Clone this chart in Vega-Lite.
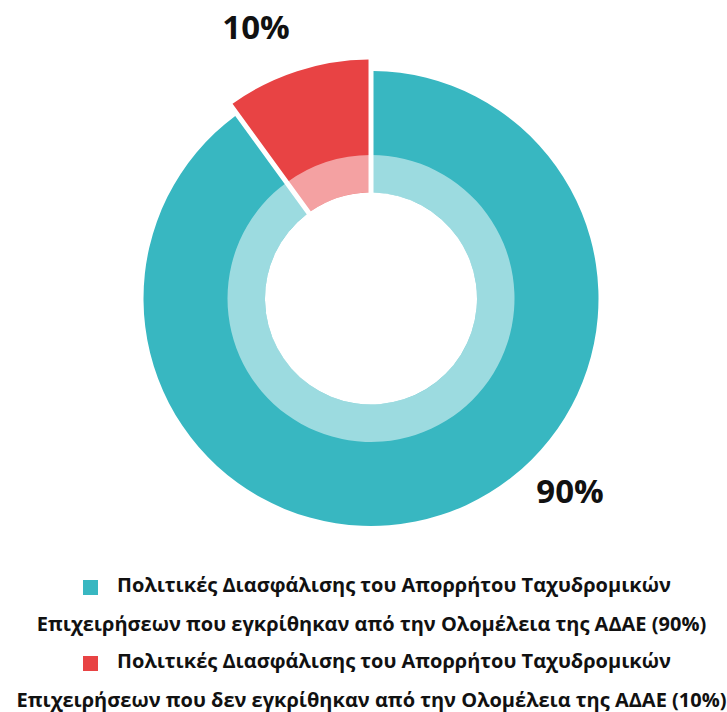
{
  "$schema": "https://vega.github.io/schema/vega-lite/v6.json",
  "width": 712,
  "height": 597,
  "autosize": {"type": "none"},
  "padding": {"left": 15, "top": 0, "right": 0, "bottom": 115},
  "background": "white",
  "config": {"view": {"stroke": null}},
  "data": {
    "values": [
      {"category": "Πολιτικές Διασφάλισης του Απορρήτου Ταχυδρομικών Επιχειρήσεων που εγκρίθηκαν από την Ολομέλεια της ΑΔΑΕ (90%)", "value": 90, "label": "90%", "order": 1},
      {"category": "Πολιτικές Διασφάλισης του Απορρήτου Ταχυδρομικών Επιχειρήσεων που δεν εγκρίθηκαν από την Ολομέλεια της ΑΔΑΕ (10%)", "value": 10, "label": "10%", "order": 2}
    ]
  },
  "transform": [
    {"stack": "value", "groupby": [], "as": ["v0", "v1"], "sort": [{"field": "order", "order": "ascending"}]}
  ],
  "layer": [
    {
      "transform": [{"filter": "datum.order == 1"}],
      "mark": {"type": "arc", "innerRadius": 106, "outerRadius": 227.5, "padAngle": 0.02},
      "encoding": {
        "theta": {"field": "v0", "type": "quantitative", "scale": {"domain": [0, 100]}, "stack": null},
        "theta2": {"field": "v1"},
        "color": {
          "field": "category", "type": "nominal",
          "scale": {
            "domain": [
              "Πολιτικές Διασφάλισης του Απορρήτου Ταχυδρομικών Επιχειρήσεων που εγκρίθηκαν από την Ολομέλεια της ΑΔΑΕ (90%)",
              "Πολιτικές Διασφάλισης του Απορρήτου Ταχυδρομικών Επιχειρήσεων που δεν εγκρίθηκαν από την Ολομέλεια της ΑΔΑΕ (10%)"
            ],
            "range": ["#38B7C1", "#E84344"]
          },
          "legend": {
            "title": null,
            "orient": "none",
            "legendX": 65.5,
            "legendY": 577.5,
            "direction": "vertical",
            "padding": 0,
            "symbolType": "square",
            "symbolSize": 225,
            "symbolStrokeWidth": 0,
            "symbolOffset": 0,
            "labelFont": "Open Sans",
            "labelFontSize": 20,
            "labelFontWeight": "bold",
            "labelColor": "#111111",
            "labelAlign": "center",
            "labelBaseline": "top",
            "labelOffset": 271,
            "labelLimit": 0,
            "rowPadding": 16,
            "labelExpr": "['\u2800\u2800\u2800' + substring(datum.label, 0, indexof(datum.label, ' Επιχειρήσεων')), substring(datum.label, indexof(datum.label, ' Επιχειρήσεων') + 1)]",
            "encode": {"labels": {"update": {"lineHeight": {"value": 39.5}, "fontWeight": {"value": "bold"}, "dy": {"value": -12}}}}
          }
        }
      }
    },
    {
      "transform": [{"filter": "datum.order == 2"}],
      "mark": {"type": "arc", "innerRadius": 106, "outerRadius": 239, "padAngle": 0.019},
      "encoding": {
        "theta": {"field": "v0", "type": "quantitative", "scale": {"domain": [0, 100]}, "stack": null},
        "theta2": {"field": "v1"},
        "color": {"field": "category", "type": "nominal"}
      }
    },
    {
      "mark": {"type": "arc", "innerRadius": 106, "outerRadius": 143.5, "fillOpacity": 0.5, "color": "white"},
      "encoding": {
        "theta": {"field": "v0", "type": "quantitative", "scale": {"domain": [0, 100]}, "stack": null},
        "theta2": {"field": "v1"}
      }
    },
    {
      "transform": [{"filter": "datum.order == 2"}],
      "mark": {"type": "text", "radius": 293, "thetaOffset": 0.225, "font": "Open Sans", "fontSize": 33, "fontWeight": "bold", "color": "#111111", "align": "center", "baseline": "middle"},
      "encoding": {
        "theta": {"field": "v0", "type": "quantitative", "scale": {"domain": [0, 100]}, "stack": null},
        "text": {"field": "label"}
      }
    },
    {
      "transform": [{"filter": "datum.order == 1"}],
      "mark": {"type": "text", "radius": 278.6, "thetaOffset": 2.346, "font": "Open Sans", "fontSize": 33, "fontWeight": "bold", "color": "#111111", "align": "center", "baseline": "middle"},
      "encoding": {
        "theta": {"field": "v0", "type": "quantitative", "scale": {"domain": [0, 100]}, "stack": null},
        "text": {"field": "label"}
      }
    }
  ]
}
